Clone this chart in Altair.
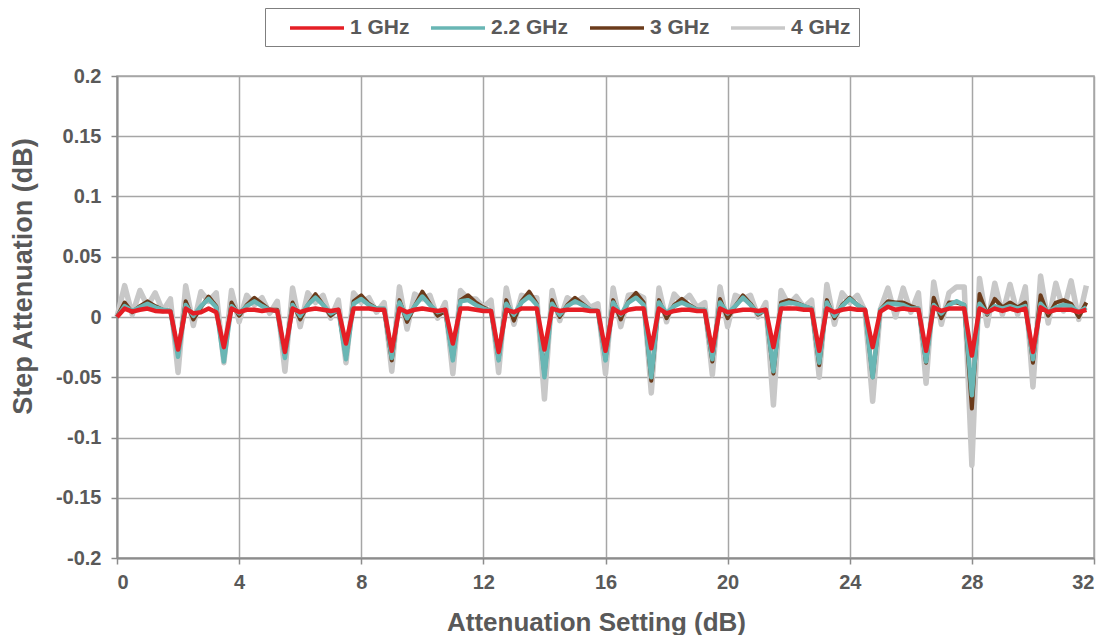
import altair as alt
import numpy as np
import pandas as pd

settings = list(np.arange(0, 32, 0.25))

ghz1 = [0, .007, .0045, .006, .007, .005, .0045, .0045, -.027, .007, .003, .004, .007, .004, -.025, .007,
        .004, .006, .006, .005, .006, .005, -.029, .007, .004, .006, .007, .006, .005, .006, -.022, .007,
        .007, .007, .006, .006, -.028, .007, .004, .006, .007, .006, .005, .006, -.022, .007, .007, .006,
        .005, .005, -.029, .006, .004, .007, .007, .007, -.027, .007, .005, .006, .006, .006, .005, .005,
        -.028, .007, .003, .006, .007, .007, -.026, .007, .003, .005, .006, .006, .005, .005, -.028, .007,
        .004, .005, .006, .006, .005, .006, -.025, .007, .007, .007, .006, .006, -.028, .007, .004, .006,
        .007, .006, .006, -.025, .0045, .0085, .006, .007, .006, .006, -.028, .008, .005, .007, .007, .007,
        -.032, .007, .004, .007, .005, .007, .005, .007, -.029, .008, .004, .006, .006, .006, .004, .006]

ghz22 = [0, .009, .005, .008, .011, .008, .006, .005, -.033, .010, .001, .009, .015, .008, -.037, .009,
         .003, .009, .013, .009, .006, .005, -.034, .010, .001, .010, .016, .010, .003, .006, -.035, .011,
         .015, .010, .007, .007, -.034, .012, -.001, .009, .017, .010, .004, .006, -.036, .013, .014, .010,
         .007, .005, -.036, .011, .002, .012, .017, .010, -.050, .011, .002, .009, .013, .010, .006, .005,
         -.036, .012, .002, .012, .016, .010, -.050, .012, .003, .009, .012, .009, .006, .006, -.035, .012,
         .003, .009, .016, .010, .003, .006, -.045, .010, .012, .011, .009, .007, -.038, .012, .001, .009,
         .015, .010, .006, -.050, .006, .011, .011, .010, .007, .007, -.037, .010, .003, .010, .013, .010,
         -.065, .011, .003, .009, .007, .009, .007, .009, -.035, .011, .004, .008, .010, .009, .004, .008]

ghz3 = [0, .012, .004, .009, .013, .009, .006, .005, -.030, .013, -.002, .008, .017, .009, -.034, .012,
        .001, .010, .016, .011, .006, .006, -.032, .012, -.002, .010, .019, .010, .001, .006, -.033, .013,
        .018, .011, .007, .006, -.036, .014, -.004, .009, .021, .011, .001, .005, -.034, .014, .018, .012,
        .008, .005, -.035, .014, -.003, .013, .021, .011, -.048, .014, .000, .010, .016, .011, .006, .005,
        -.035, .014, -.002, .013, .020, .012, -.053, .014, -.001, .010, .015, .010, .006, .006, -.037, .015,
        -.001, .009, .018, .011, .002, .006, -.047, .012, .014, .012, .009, .007, -.040, .014, -.001, .010,
        .016, .010, .006, -.050, .006, .013, .012, .012, .009, .007, -.038, .016, -.001, .012, .012, .010,
        -.076, .019, .002, .015, .008, .012, .008, .012, -.038, .018, .001, .012, .014, .011, .000, .012]

ghz4 = [0, .026, .002, .022, .009, .020, .005, .015, -.046, .026, -.007, .021, .013, .020, -.038, .022,
        -.004, .018, .010, .016, .003, .013, -.045, .024, -.008, .020, .012, .018, -.001, .014, -.038, .020,
        .012, .016, .004, .012, -.045, .025, -.010, .019, .015, .018, -.001, .012, -.047, .022, .015, .015,
        .008, .014, -.046, .024, -.006, .018, .016, .016, -.068, .022, -.003, .016, .012, .016, .008, .011,
        -.047, .024, -.008, .018, .019, .016, -.063, .024, -.004, .019, .012, .018, .008, .012, -.048, .025,
        -.008, .018, .015, .018, .000, .012, -.073, .022, .010, .017, .008, .014, -.050, .027, -.006, .020,
        .012, .018, .005, -.070, .006, .024, .000, .024, .004, .020, -.055, .029, -.006, .020, .025, .025,
        -.123, .032, -.007, .028, .002, .027, .002, .025, -.058, .034, -.005, .028, .005, .030, -.002, .026]

series_names = ["1 GHz", "2.2 GHz", "3 GHz", "4 GHz"]
series_colors = ["#E51E25", "#69B6B4", "#6B3B1B", "#C8C8C8"]
series_values = [ghz1, ghz22, ghz3, ghz4]
series_widths = [4.5, 4.5, 4, 5.5]

x_ticks = [0, 4, 8, 12, 16, 20, 24, 28, 32]
y_ticks = [-0.2, -0.15, -0.1, -0.05, 0, 0.05, 0.1, 0.15, 0.2]

frames = []
for name, vals in zip(series_names, series_values):
    frames.append(pd.DataFrame({"setting": settings, "value": vals, "series": name}))
df = pd.concat(frames, ignore_index=True)

FONT = "Liberation Sans"
TXT = "#595959"
GRID = "#a6a6a6"

x_enc = alt.X("setting:Q",
              scale=alt.Scale(domain=[0, 32], nice=False, zero=False),
              axis=alt.Axis(values=x_ticks, title="Attenuation Setting (dB)", format="d",
                            labelFontSize=20, titleFontSize=26, tickSize=6, labelPadding=8,
                            titleX=479, titleY=51, titleBaseline="top"))
y_enc = alt.Y("value:Q",
              scale=alt.Scale(domain=[-0.2, 0.2], nice=False),
              axis=alt.Axis(values=y_ticks, title="Step Attenuation (dB)",
                            labelExpr="replace(format(datum.value, '~g'), '\u2212', '-')",
                            labelFontSize=20, titleFontSize=27, tickSize=6, labelPadding=10,
                            titleX=-80, titleY=200, titleAngle=270, titleBaseline="bottom"))
color_enc = alt.Color("series:N",
                      scale=alt.Scale(domain=series_names, range=series_colors),
                      legend=alt.Legend(orient="none", legendX=148, legendY=-68,
                                        direction="horizontal", title=None,
                                        strokeColor="#7f7f7f", fillColor="white",
                                        padding=8, symbolOffset=32,
                                        symbolType="M-2.7,0H2.7", symbolSize=400,
                                        symbolStrokeWidth=3.5, columnPadding=4,
                                        labelFontSize=21, labelFont=FONT,
                                        labelColor=TXT, labelFontWeight="bold",
                                        labelOffset=21))

layers = []
for idx in [3, 2, 1, 0]:
    name = series_names[idx]
    layers.append(
        alt.Chart(df).transform_filter(alt.datum.series == name)
        .mark_line(strokeWidth=series_widths[idx], strokeJoin="round")
        .encode(x=x_enc, y=y_enc, color=color_enc)
    )

chart = alt.layer(*layers).properties(
    width=977, height=482,
    autosize=alt.AutoSizeParams(type="none"),
    padding={"left": 109, "top": 68, "right": 12, "bottom": 77},
).configure_axis(
    labelFont=FONT, titleFont=FONT, labelColor=TXT, titleColor=TXT,
    labelFontWeight="bold", titleFontWeight="bold",
    gridColor=GRID, gridWidth=1.5, domainColor="#8c8c8c", domainWidth=2,
    tickColor="#8c8c8c", tickWidth=1.5,
).configure_view(stroke=GRID, strokeWidth=1.5)

chart.save("out.html", embed_options={"renderer": "svg", "actions": False})
